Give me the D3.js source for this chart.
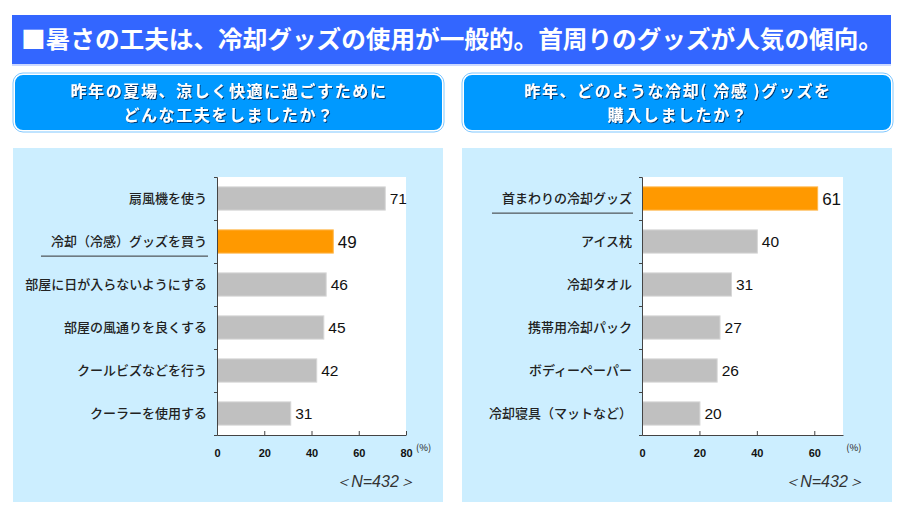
<!DOCTYPE html>
<html lang="ja">
<head>
<meta charset="UTF-8">
<title>暑さの工夫</title>
<script src="https://d3js.org/d3.v7.min.js"></script>
<style>
  body { margin: 0; background: #fff; }
  svg { display: block; }
  .cat { font-family: "Noto Sans CJK JP", sans-serif; font-size: 13px; font-weight: 500; fill: #222; }
  .val { font-family: "Liberation Sans", Arial, sans-serif; font-size: 15.5px; fill: #111; }
  .axis text { font-family: "Liberation Sans", Arial, sans-serif; font-size: 11px; font-weight: bold; fill: #111; }
  .axis path, .axis line { stroke: #444; }
</style>
</head>
<body>
<script>
const titleText = "■暑さの工夫は、冷却グッズの使用が一般的。首周りのグッズが人気の傾向。";

const leftQuestion = ["昨年の夏場、涼しく快適に過ごすために", "どんな工夫をしましたか？"];
const leftCategories = ["扇風機を使う", "冷却（冷感）グッズを買う", "部屋に日が入らないようにする", "部屋の風通りを良くする", "クールビズなどを行う", "クーラーを使用する"];
const leftValues = [71, 49, 46, 45, 42, 31];
const leftTicks = [0, 20, 40, 60, 80];
const leftHighlight = 1;

const rightQuestion = ["昨年、どのような冷却( 冷感 )グッズを", "購入しましたか？"];
const rightCategories = ["首まわりの冷却グッズ", "アイス枕", "冷却タオル", "携帯用冷却パック", "ボディーペーパー", "冷却寝具（マットなど）"];
const rightValues = [61, 40, 31, 27, 26, 20];
const rightTicks = [0, 20, 40, 60];
const rightHighlight = 0;

const sampleNote = "＜N=432＞";

const W = 900, H = 519;
const svg = d3.select("body").append("svg").attr("width", W).attr("height", H);

const defs = svg.append("defs");
const shadow = defs.append("filter").attr("id", "shadow").attr("x", "-5%").attr("y", "-20%").attr("width", "110%").attr("height", "140%");
shadow.append("feDropShadow").attr("dx", 1).attr("dy", 1).attr("stdDeviation", 0.6).attr("flood-color", "#003366").attr("flood-opacity", 0.9);

// title bar
svg.append("rect").attr("x", 12).attr("y", 15).attr("width", 879).attr("height", 49)
  .attr("fill", "#3366ff");
svg.append("line").attr("x1", 12).attr("x2", 891).attr("y1", 65).attr("y2", 65)
  .attr("stroke", "#99b3ff").attr("stroke-width", 1);
svg.append("text").attr("x", 452).attr("y", 40).attr("dy", "0.35em")
  .attr("text-anchor", "middle")
  .style("font-family", "'Noto Sans CJK JP', sans-serif").style("font-weight", "bold")
  .style("font-size", "24px").attr("fill", "#fff")
  .attr("textLength", 862).attr("lengthAdjust", "spacingAndGlyphs")
  .text(titleText);

function panel(x0, question, cats, vals, ticks, maxV, left, plotRight, highlight) {
  const g = svg.append("g");
  // question box
  g.append("rect").attr("x", x0 + 1).attr("y", 74).attr("width", 429).attr("height", 57)
    .attr("rx", 9).attr("fill", "#0099ff").attr("stroke", "#fff").attr("stroke-width", 2);
  g.append("rect").attr("x", x0).attr("y", 73).attr("width", 431).attr("height", 59)
    .attr("rx", 10).attr("fill", "none").attr("stroke", "#80c8ff").attr("stroke-width", 1);
  const qt = g.append("text").attr("text-anchor", "middle").attr("filter", "url(#shadow)")
    .style("font-family", "'Noto Sans CJK JP', sans-serif").style("font-weight", "bold")
    .style("font-size", "16px").style("letter-spacing", "1.6px").attr("fill", "#fff");
  question.forEach((q, i) => {
    qt.append("tspan").attr("x", x0 + 216).attr("y", 97 + i * 23.5).text(q);
  });

  // light blue background
  g.append("rect").attr("x", x0).attr("y", 148).attr("width", 430).attr("height", 354)
    .attr("fill", "#cceeff");

  const top = 177, bottom = 435;
  const x = d3.scaleLinear().domain([0, maxV]).range([left, plotRight]);
  const y = d3.scaleBand().domain(cats).range([top, bottom]).paddingInner(0.46).paddingOuter(0.23);
  const idx = d3.scaleLinear().domain([0, cats.length]).range([top, bottom]);

  g.append("rect").attr("x", left).attr("y", top).attr("width", plotRight - left).attr("height", bottom - top)
    .attr("fill", "#fff");

  g.selectAll(".bar").data(cats).join("rect")
    .attr("x", left + 0.5)
    .attr("y", d => y(d))
    .attr("width", (d, i) => x(vals[i]) - left)
    .attr("height", y.bandwidth())
    .attr("fill", (d, i) => i === highlight ? "#ff9900" : "#c0c0c0")
    .attr("stroke", (d, i) => i === highlight ? "#ffb84d" : "#d6d6d6")
    .attr("stroke-width", 1);

  g.selectAll(".val").data(cats).join("text").attr("class", "val")
    .attr("x", (d, i) => x(vals[i]) + 5)
    .attr("y", d => y(d) + y.bandwidth() / 2).attr("dy", "0.36em")
    .style("font-size", (d, i) => i === highlight ? "17px" : null)
    .text((d, i) => vals[i]);

  g.selectAll(".cat").data(cats).join("text").attr("class", "cat")
    .attr("x", left - 10).attr("text-anchor", "end")
    .attr("y", d => y(d) + y.bandwidth() / 2).attr("dy", "0.35em")
    .text(d => d);

  // underline of highlighted category
  const hc = cats[highlight];
  const tmp = g.append("text").attr("class", "cat").text(hc);
  const tw = tmp.node().getComputedTextLength();
  tmp.remove();
  g.append("line").attr("x1", left - 10 - tw - 10).attr("x2", left - 9)
    .attr("y1", y(hc) + y.bandwidth() + 3).attr("y2", y(hc) + y.bandwidth() + 3)
    .attr("stroke", "#333").attr("stroke-width", 1);

  // category boundary ticks
  g.append("g").attr("class", "axis").attr("transform", `translate(${left},0)`)
    .call(d3.axisLeft(idx).ticks(cats.length).tickSize(3).tickFormat(""));

  g.append("g").attr("class", "axis").attr("transform", `translate(0,${bottom})`)
    .call(d3.axisBottom(x).tickValues(ticks).tickSizeInner(-4).tickSizeOuter(0).tickPadding(14));

  const lastTick = ticks[ticks.length - 1];
  g.append("text").attr("x", x(lastTick) + (maxV === lastTick ? 10 : 32))
    .attr("y", 451).attr("text-anchor", "start")
    .style("font-family", "'Noto Sans CJK JP', sans-serif").style("font-size", "9.5px").attr("fill", "#222")
    .text("(%)");

  g.append("text").attr("x", x0 + 362).attr("y", 487).attr("text-anchor", "middle")
    .style("font-family", "'Liberation Sans', Arial, sans-serif").style("font-style", "italic")
    .style("font-size", "16px").attr("fill", "#333").text(sampleNote);
}

panel(13, leftQuestion, leftCategories, leftValues, leftTicks, 80, 217, 406, leftHighlight);
panel(462, rightQuestion, rightCategories, rightValues, rightTicks, 70, 642, 843, rightHighlight);
</script>
</body>
</html>
